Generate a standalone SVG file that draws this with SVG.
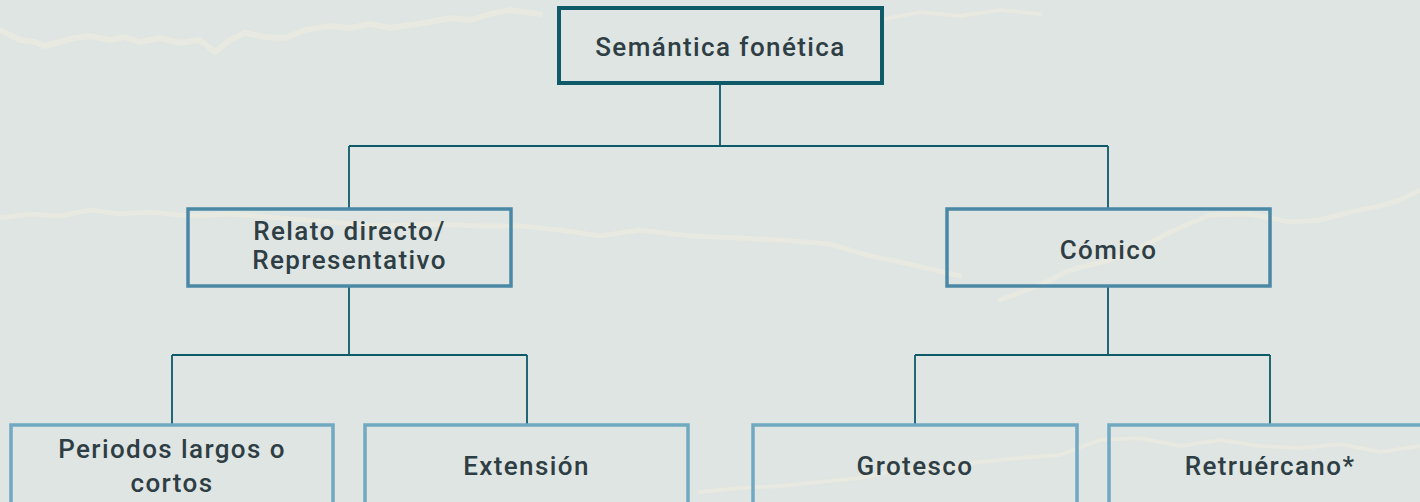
<svg xmlns="http://www.w3.org/2000/svg" width="1420" height="502" viewBox="0 0 1420 502">
  <style>
    .bg { fill: #dfe5e2; }
    .brush { fill: none; stroke: #f2ede0; stroke-linecap: round; stroke-linejoin: round; opacity: 0.5; }
    .n0 { fill: #dfe5e2; fill-opacity: 0.6; stroke: #0e5a69; stroke-width: 4; }
    .n1 { fill: none; stroke: #4b88a5; stroke-width: 3.5; }
    .n2 { fill: none; stroke: #71a9c1; stroke-width: 3.5; }
    .t { font-family: "Roboto", "Liberation Sans", sans-serif; font-size: 26px; font-weight: 500; fill: #2e3e44; text-anchor: middle; letter-spacing: 1.4px; }
    .c { fill: none; stroke: #0e5a69; stroke-width: 1.8; }
  </style>
  <rect class="bg" x="0" y="0" width="1420" height="502"/>
  <g id="texture">
    <path class="brush" stroke-width="6" d="M0,30 L20,40 L35,42 L45,46 L60,42 L75,38 L90,36 L110,40 L125,37 L140,42 L160,38 L180,43 L200,40 L215,52 L230,40 L245,33 L265,37 L285,38 L305,30 L330,26 L350,28 L370,24 L390,28 L410,25 L430,22 L450,18 L470,20 L490,14 L510,10 L540,14"/>
    <path class="brush" stroke-width="4" d="M880,20 L920,12 L960,16 L1000,10 L1040,14"/>
    <path class="brush" stroke-width="5" d="M0,218 L30,214 L60,216 L90,210 L120,214 L150,212 L190,216 L230,214 L280,218 L330,222 L380,226 L430,224 L480,226 L520,226 L560,230 L600,236 L640,230 L690,236 L740,238 L780,240 L830,244 L870,256 L900,262 L935,270 L960,276"/>
    <path class="brush" stroke-width="5" d="M1000,300 L1040,285 L1070,270 L1110,260 L1140,248 L1170,232 L1210,215 L1250,214 L1290,222 L1320,220 L1350,212 L1380,206 L1400,200 L1420,190"/>
    <path class="brush" stroke-width="4" d="M700,492 L740,488 L780,486 L820,482 L860,478 L900,470 L940,468 L980,462 L1020,458 L1060,455 L1100,440 L1140,438 L1180,446 L1220,440 L1260,446 L1300,448 L1340,444 L1380,452 L1420,446"/>
  </g>
  <g id="connectors">
    <path class="c" d="M720,83 V146 M349,146 H1108 M349,146 V208 M1108,146 V208"/>
    <path class="c" d="M349,287 V355 M172,355 H527 M172,355 V424 M527,355 V424"/>
    <path class="c" d="M1108,287 V355 M915,355 H1270 M915,355 V424 M1270,355 V424"/>
  </g>
  <g id="n-semantica">
    <rect class="n0" x="559" y="8" width="323" height="75"/>
    <text class="t" x="720.5" y="56">Semántica fonética</text>
  </g>
  <g id="n-relato">
    <rect class="n1" x="188" y="209" width="323" height="77"/>
    <text class="t" x="349.5" y="240">Relato directo/</text>
    <text class="t" x="349.5" y="269">Representativo</text>
  </g>
  <g id="n-comico">
    <rect class="n1" x="947" y="209" width="323" height="77"/>
    <text class="t" x="1108.5" y="259">Cómico</text>
  </g>
  <g id="n-periodos">
    <rect class="n2" x="11" y="425" width="322" height="82"/>
    <text class="t" x="172" y="458">Periodos largos o</text>
    <text class="t" x="172" y="492">cortos</text>
  </g>
  <g id="n-extension">
    <rect class="n2" x="365" y="425" width="323" height="82"/>
    <text class="t" x="526.5" y="475">Extensión</text>
  </g>
  <g id="n-grotesco">
    <rect class="n2" x="753" y="425" width="324" height="82"/>
    <text class="t" x="915" y="475">Grotesco</text>
  </g>
  <g id="n-retruercano">
    <rect class="n2" x="1109" y="425" width="324" height="82"/>
    <text class="t" x="1270" y="475">Retruércano*</text>
  </g>
</svg>
